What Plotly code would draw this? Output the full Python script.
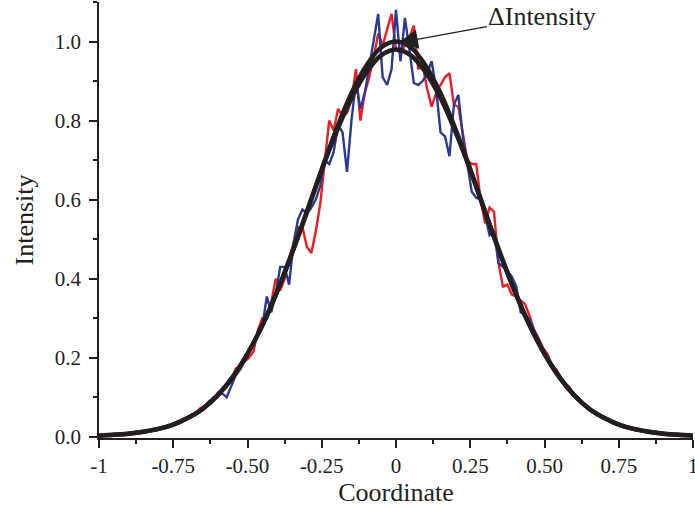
import numpy as np
import plotly.graph_objects as go

# Smooth fitted profiles, sampled every 0.05 along the coordinate axis
coord_fit = [-1.00, -0.95, -0.90, -0.85, -0.80, -0.75, -0.70, -0.65, -0.60, -0.55,
             -0.50, -0.45, -0.40, -0.35, -0.30, -0.25, -0.20, -0.15, -0.10, -0.05,
             0.00, 0.05, 0.10, 0.15, 0.20, 0.25, 0.30, 0.35, 0.40, 0.45,
             0.50, 0.55, 0.60, 0.65, 0.70, 0.75, 0.80, 0.85, 0.90, 0.95, 1.00]
fit_upper = [0.003, 0.005, 0.008, 0.013, 0.020, 0.031, 0.048, 0.071, 0.105, 0.151,
             0.210, 0.282, 0.368, 0.465, 0.570, 0.677, 0.779, 0.869, 0.939, 0.985,
             1.000, 0.985, 0.939, 0.869, 0.779, 0.677, 0.570, 0.465, 0.368, 0.282,
             0.210, 0.151, 0.105, 0.071, 0.048, 0.031, 0.020, 0.013, 0.008, 0.005, 0.003]
fit_lower = [0.003, 0.005, 0.008, 0.013, 0.020, 0.031, 0.048, 0.071, 0.105, 0.151,
             0.210, 0.282, 0.368, 0.465, 0.568, 0.675, 0.772, 0.857, 0.922, 0.965,
             0.980, 0.965, 0.922, 0.857, 0.772, 0.675, 0.568, 0.465, 0.368, 0.282,
             0.210, 0.151, 0.105, 0.071, 0.048, 0.031, 0.020, 0.013, 0.008, 0.005, 0.003]

# Measured profiles, sampled every 0.015 from -0.72 to 0.72
coord_meas = np.round(np.linspace(-0.72, 0.72, 97), 3)
meas_red = [0.040, 0.046, 0.050, 0.060, 0.072, 0.078, 0.090, 0.095, 0.112, 0.120,
            0.128, 0.140, 0.172, 0.180, 0.190, 0.200, 0.215, 0.270, 0.300, 0.300,
            0.340, 0.400, 0.370, 0.400, 0.450, 0.490, 0.530, 0.530, 0.480, 0.465,
            0.520, 0.590, 0.700, 0.800, 0.775, 0.830, 0.810, 0.820, 0.850, 0.930,
            0.800, 0.870, 0.910, 0.960, 1.020, 0.990, 1.030, 1.070, 0.980, 0.970,
            0.990, 1.010, 1.040, 0.930, 0.940, 0.880, 0.835, 0.870, 0.890, 0.910,
            0.920, 0.840, 0.835, 0.770, 0.700, 0.690, 0.690, 0.600, 0.540, 0.580,
            0.570, 0.440, 0.380, 0.385, 0.360, 0.355, 0.345, 0.335, 0.305, 0.270,
            0.250, 0.225, 0.210, 0.180, 0.170, 0.150, 0.135, 0.125, 0.102, 0.098,
            0.085, 0.078, 0.066, 0.060, 0.052, 0.046, 0.040]
meas_blue = [0.038, 0.044, 0.056, 0.060, 0.068, 0.075, 0.088, 0.100, 0.104, 0.110,
             0.100, 0.130, 0.155, 0.170, 0.190, 0.215, 0.235, 0.265, 0.280, 0.355,
             0.315, 0.360, 0.430, 0.430, 0.385, 0.490, 0.550, 0.575, 0.565, 0.580,
             0.600, 0.635, 0.700, 0.690, 0.720, 0.790, 0.770, 0.670, 0.800, 0.900,
             0.830, 0.870, 0.940, 1.000, 1.070, 0.910, 0.890, 0.930, 1.080, 0.950,
             1.060, 0.980, 0.895, 0.890, 0.900, 0.920, 0.950, 0.880, 0.770, 0.760,
             0.710, 0.840, 0.865, 0.760, 0.690, 0.620, 0.605, 0.600, 0.560, 0.510,
             0.520, 0.440, 0.430, 0.420, 0.405, 0.380, 0.315, 0.310, 0.295, 0.270,
             0.245, 0.220, 0.200, 0.185, 0.168, 0.150, 0.130, 0.118, 0.108, 0.094,
             0.086, 0.074, 0.066, 0.058, 0.052, 0.045, 0.039]

# Axis ticks
x_major = [-1, -0.75, -0.5, -0.25, 0, 0.25, 0.5, 0.75, 1]
x_labels = ["-1", "-0.75", "-0.50", "-0.25", "0", "0.25", "0.50", "0.75", "1"]
x_minor = [-0.875, -0.625, -0.375, -0.125, 0.125, 0.375, 0.625, 0.875]
y_major = [0.0, 0.2, 0.4, 0.6, 0.8, 1.0]
y_labels = ["0.0", "0.2", "0.4", "0.6", "0.8", "1.0"]
y_minor = [0.1, 0.3, 0.5, 0.7, 0.9, 1.1]

INK = "#231f20"
FONT = "Liberation Serif"

fig = go.Figure()
fig.add_trace(go.Scatter(x=coord_meas, y=meas_red, mode="lines",
                         line=dict(color="#ed1c24", width=2.4), showlegend=False))
fig.add_trace(go.Scatter(x=coord_meas, y=meas_blue, mode="lines",
                         line=dict(color="#2b3894", width=2.4), showlegend=False))
fig.add_trace(go.Scatter(x=coord_fit, y=fit_lower, mode="lines",
                         line=dict(color=INK, width=4.5, shape="spline"), showlegend=False))
fig.add_trace(go.Scatter(x=coord_fit, y=fit_upper, mode="lines",
                         line=dict(color=INK, width=4.5, shape="spline"), showlegend=False))

fig.add_annotation(x=0.008, y=0.997, xref="x", yref="y", text="ΔIntensity",
                   showarrow=True, ax=144, ay=-26, arrowhead=2, arrowsize=3,
                   arrowwidth=1.3, arrowcolor=INK,
                   font=dict(family=FONT, size=26, color=INK))

axis_common = dict(showline=True, linecolor=INK, linewidth=1.6, showgrid=False,
                   zeroline=False, ticks="outside", ticklen=8, tickwidth=1.6,
                   tickcolor=INK, tickfont=dict(family=FONT, size=21, color=INK),
                   mirror=False, ticklabeloverflow="allow", automargin=False)

fig.update_xaxes(range=[-1, 1], tickmode="array", tickvals=x_major, ticktext=x_labels,
                 minor=dict(tickmode="array", tickvals=x_minor, ticks="outside",
                            ticklen=4, tickwidth=1.6, tickcolor=INK),
                 title=dict(text="Coordinate", font=dict(family=FONT, size=26, color=INK),
                            standoff=4),
                 **axis_common)
fig.update_yaxes(range=[-0.003, 1.1], tickmode="array", tickvals=y_major, ticktext=y_labels,
                 minor=dict(tickmode="array", tickvals=y_minor, ticks="outside",
                            ticklen=4, tickwidth=1.6, tickcolor=INK),
                 title=dict(text="Intensity", font=dict(family=FONT, size=26, color=INK),
                            standoff=14),
                 ticklabelstandoff=4,
                 **axis_common)

fig.update_layout(width=695, height=508, margin=dict(l=99, r=2, t=2, b=70),
                  plot_bgcolor="white", paper_bgcolor="white", showlegend=False)

fig.write_html("out.html")
